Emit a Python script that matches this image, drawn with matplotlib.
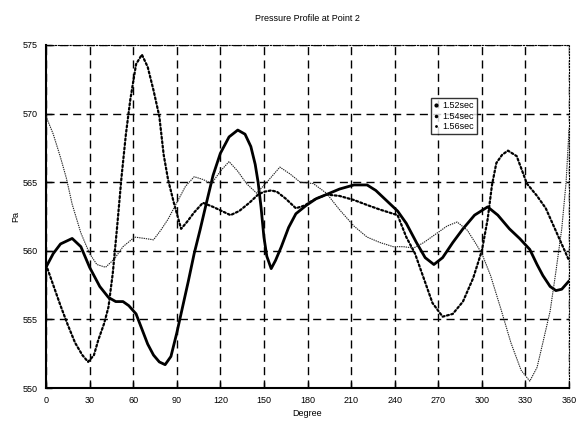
import matplotlib
matplotlib.use("Agg")
import matplotlib.pyplot as plt
from matplotlib.lines import Line2D

plt.rcParams['font.family'] = ['Liberation Sans', 'DejaVu Sans']

# pressure at point 2 around the circumference, three time steps
deg_152 = [0, 5, 10, 18, 24, 30, 37, 43, 48, 53, 57, 62, 66, 70, 74, 78, 82, 86, 90,
           94, 98, 102, 106, 110, 115, 120, 126, 132, 137, 141, 144, 146, 148, 150,
           152, 155, 158, 162, 167, 172, 179, 186, 193, 202, 212, 221, 227, 232, 237,
           242, 248, 255, 261, 267, 273, 280, 287, 295, 304, 311, 319, 326, 333, 338,
           342, 347, 351, 355, 360]
pa_152 = [558.8, 559.8, 560.5, 560.9, 560.3, 558.8, 557.4, 556.6, 556.3, 556.3, 556.0,
          555.4, 554.3, 553.2, 552.4, 551.9, 551.7, 552.3, 554.0, 555.9, 557.8, 559.8,
          561.5, 563.3, 565.5, 567.1, 568.3, 568.8, 568.5, 567.6, 566.3, 565.0, 563.2,
          561.0, 559.6, 558.7, 559.3, 560.3, 561.7, 562.7, 563.3, 563.8, 564.1, 564.5,
          564.8, 564.8, 564.4, 563.9, 563.4, 562.9, 562.0, 560.6, 559.5, 559.0, 559.5,
          560.6, 561.6, 562.6, 563.2, 562.6, 561.6, 560.9, 560.1, 559.0, 558.2, 557.4,
          557.1, 557.2, 557.8]

deg_154 = [0, 5, 10, 15, 20, 25, 29, 33, 36, 40, 43, 46, 49, 52, 55, 58, 62, 66, 70,
           74, 78, 81, 84, 88, 93, 97, 102, 108, 115, 121, 127, 133, 140, 146, 150, 155,
           159, 165, 172, 178, 184, 193, 202, 212, 222, 230, 236, 242, 248, 254, 260,
           266, 273, 280, 287, 294, 300, 304, 307, 310, 314, 318, 324, 331, 338, 344,
           352, 360]
pa_154 = [559.0, 557.5, 556.0, 554.6, 553.3, 552.4, 551.9, 552.4, 553.5, 554.7, 555.9,
          558.4, 561.8, 565.4, 568.5, 571.0, 573.6, 574.3, 573.4, 571.7, 569.8, 567.0,
          565.2, 563.5, 561.6, 562.1, 562.8, 563.5, 563.2, 562.9, 562.6, 562.9, 563.5,
          564.1, 564.3, 564.4, 564.3, 563.8, 563.1, 563.3, 563.7, 564.1, 564.0, 563.7,
          563.3, 563.0, 562.8, 562.6, 561.0, 559.8, 558.0, 556.2, 555.2, 555.4, 556.3,
          558.0, 560.0, 562.3, 564.8, 566.4, 567.0, 567.3, 566.9, 564.9, 564.0, 563.1,
          561.2, 559.3]

deg_156 = [0, 5, 10, 14, 18, 24, 30, 35, 41, 47, 53, 61, 68, 74, 79, 84, 90, 96, 102,
           108, 114, 120, 126, 132, 138, 145, 152, 161, 168, 175, 184, 193, 202, 212,
           221, 230, 239, 246, 253, 260, 268, 276, 283, 290, 296, 300, 306, 313, 320,
           327, 333, 338, 342, 347, 351, 355, 358, 360]
pa_156 = [569.8, 568.5, 566.8, 565.3, 563.4, 561.3, 559.8, 559.0, 558.8, 559.4, 560.3,
          561.0, 560.9, 560.8, 561.5, 562.3, 563.5, 564.7, 565.4, 565.2, 564.9, 565.8,
          566.5, 565.8, 564.9, 564.2, 565.0, 566.1, 565.6, 565.0, 564.9, 564.2, 563.0,
          561.8, 561.0, 560.6, 560.3, 560.3, 560.2, 560.6, 561.2, 561.8, 562.1, 561.5,
          560.5, 559.8, 558.2, 555.8, 553.3, 551.3, 550.5, 551.5, 553.3, 555.6, 558.5,
          561.6, 565.0, 568.8]

series_names = ['1.52sec', '1.54sec', '1.56sec']
x_ticks = list(range(0, 361, 30))
y_ticks = [550, 555, 560, 565, 570, 575]

fig = plt.figure(figsize=(5.79, 4.21), dpi=100)
ax = fig.add_axes([46 / 579, 33 / 421, 523 / 579, 343 / 421])

ax.plot(deg_152, pa_152, color='k', lw=2.0, solid_capstyle='round', zorder=4)
ax.plot(deg_154, pa_154, color='k', lw=1.6, linestyle=(0, (0.9, 1.1)),
        dash_capstyle='round', zorder=4)
ax.plot(deg_156, pa_156, color='#222222', lw=0.8, linestyle=(0, (1.2, 0.8)), zorder=4)

ax.set_xlim(0, 360)
ax.set_ylim(550, 575)
ax.set_xticks(x_ticks)
ax.set_yticks(y_ticks)
ax.tick_params(direction='in', length=4, width=1, labelsize=6.5, pad=6,
               top=False, right=False)

ax.grid(True, color='k', linestyle=(0, (5.8, 3.8)), lw=1.0)
ax.set_axisbelow(True)

for side in ['left', 'bottom']:
    ax.spines[side].set_linewidth(1.5)
for side in ['top', 'right']:
    ax.spines[side].set_linewidth(0.8)
    ax.spines[side].set_linestyle(':')

ax.set_title('Pressure Profile at Point 2', fontsize=6.5, pad=17)
ax.set_xlabel('Degree', fontsize=6.5, labelpad=3)
ax.set_ylabel('Pa', fontsize=6.5, labelpad=2)

# dot markers in the legend, one size per time step
handles = [Line2D([], [], color='k', marker='.', linestyle='none', markersize=s)
           for s in (4, 3, 2)]
leg = ax.legend(handles, series_names, loc='upper left', bbox_to_anchor=(0.736, 0.845),
                fontsize=6.5, frameon=True, fancybox=False, borderpad=0.3,
                handlelength=0.6, handletextpad=0.4, labelspacing=0.2,
                borderaxespad=0)
leg.get_frame().set_edgecolor('k')
leg.get_frame().set_linewidth(1.0)

fig.savefig('out.png', dpi=100)
